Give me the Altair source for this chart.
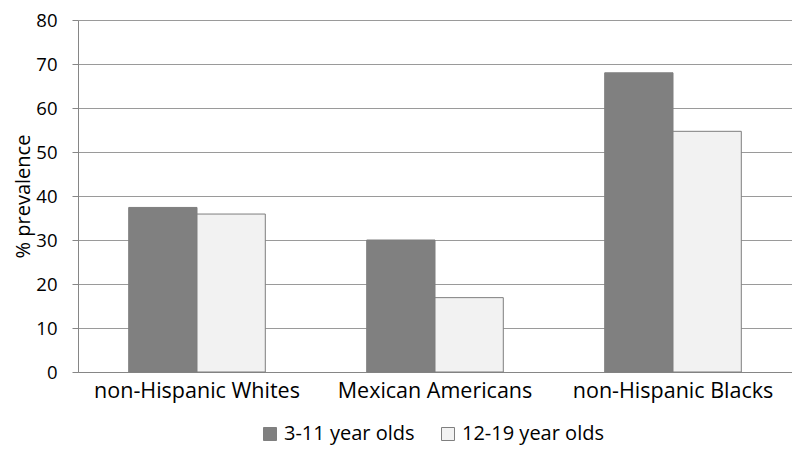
import altair as alt
import pandas as pd

groups = ["non-Hispanic Whites", "Mexican Americans", "non-Hispanic Blacks"]
series = ["3-11 year olds", "12-19 year olds"]
young = [37.4, 30.0, 68.0]
teen = [35.9, 16.9, 54.7]
y_ticks = [0, 10, 20, 30, 40, 50, 60, 70, 80]

rows = []
for g, a, b in zip(groups, young, teen):
    rows.append({"group": g, "age": series[0], "value": a})
    rows.append({"group": g, "age": series[1], "value": b})
df = pd.DataFrame(rows)

FONT = "Open Sans"
GRAY = "#868686"

chart = alt.Chart(df).mark_bar(stroke="#7f7f7f", strokeWidth=1).encode(
    x=alt.X(
        "group:N",
        sort=groups,
        scale=alt.Scale(paddingInner=0.426, paddingOuter=0.213),
        axis=alt.Axis(
            title=None, labelAngle=0, ticks=False, labelFontSize=21.5,
            labelPadding=8, domainColor=GRAY, labelColor="#000000",
            labelFont=FONT, labelLimit=0,
        ),
    ),
    xOffset=alt.XOffset("age:N", sort=series,
                        scale=alt.Scale(paddingInner=0, paddingOuter=0)),
    y=alt.Y(
        "value:Q",
        scale=alt.Scale(domain=[0, 80], nice=False),
        axis=alt.Axis(
            title="% prevalence", values=y_ticks, tickSize=6,
            tickColor=GRAY, domainColor=GRAY, gridColor="#9a9a9a",
            labelFontSize=18.5, labelPadding=15, labelColor="#000000",
            titleFontSize=20, titleFontWeight="normal", titleColor="#000000",
            titleX=-55, titleY=176, titleAlign="center", titleBaseline="middle",
            titleAngle=270, labelFont=FONT, titleFont=FONT,
        ),
    ),
    color=alt.Color(
        "age:N",
        sort=series,
        scale=alt.Scale(domain=series, range=["#808080", "#f2f2f2"]),
        legend=alt.Legend(
            title=None, orient="none", legendX=182, legendY=404,
            direction="horizontal", symbolType="square", symbolSize=169,
            symbolStrokeColor="#7f7f7f", symbolStrokeWidth=1,
            labelFontSize=20, labelFont=FONT, labelColor="#000000",
            columnPadding=23, labelPadding=6,
        ),
    ),
).properties(
    width=714,
    height=352,
    autosize=alt.AutoSizeParams(type="none"),
    padding={"left": 70, "top": 12, "right": 0, "bottom": 74},
).configure_view(stroke=GRAY).configure(font=FONT, background="white")

chart.save("out.html", embed_options={"renderer": "svg", "actions": False})
